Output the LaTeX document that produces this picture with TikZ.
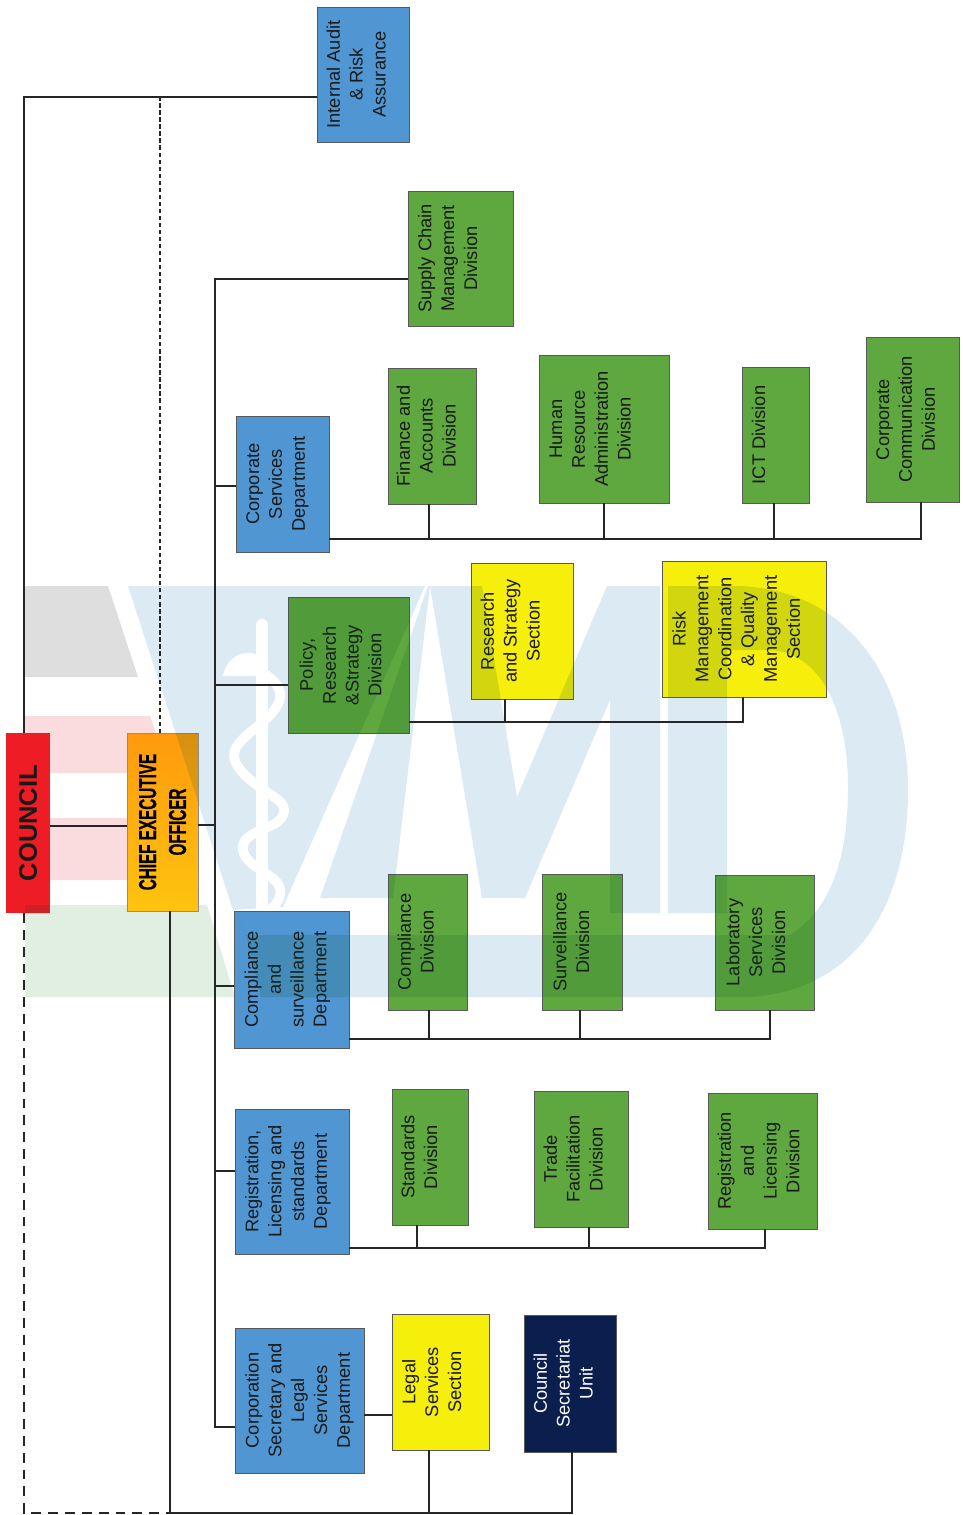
\documentclass[tikz,border=0pt]{standalone}
\usepackage{xcolor}
\usepackage{fontspec}
\setmainfont{Liberation Sans}
\newfontfamily\ceofont[FakeStretch=0.62,FakeBold=0.5]{Liberation Sans Bold}
\usepackage{tikz}
\usetikzlibrary{calc}
\definecolor{deptblue}{HTML}{4F96D2}
\definecolor{divgreen}{HTML}{5FA83F}
\definecolor{secyellow}{HTML}{F6EE0B}
\definecolor{unitnavy}{HTML}{0A1F4D}
\definecolor{councilred}{HTML}{EE1C25}
\definecolor{ceodark}{HTML}{FF9A0D}
\definecolor{ceolight}{HTML}{FFC40F}
\definecolor{wmblue}{HTML}{DCEAF4}
\definecolor{wmgrey}{HTML}{DEDEDE}
\definecolor{wmred}{HTML}{FADCDE}
\definecolor{wmgreen}{HTML}{E1EFE3}
\definecolor{wmtint}{HTML}{085128}
\newcommand{\wmletters}{
    (128,586) -- (425,586) -- (283,907) -- (233,910) -- (246,935) -- (261,997) -- (750,997)
    .. controls (860,990) and (908,900) .. (908,790)
    .. controls (908,670) and (840,586) .. (733,586) -- (668,586) -- (668,913) -- (727,913)
    -- (727,650) -- (767,650) .. controls (820,650) and (848,710) .. (848,787)
    .. controls (848,860) and (830,910) .. (790,935) -- (246,935) -- (233,910) -- cycle
    (428,586) -- (320,898) -- (393,898) -- (430,586) -- cycle
    (430,586) -- (482,586) -- (517,797) -- (607,586) -- (660,586) -- (660,913) -- (610,913) -- (610,700) -- (525,898) -- (482,898) -- cycle
}

\begin{document}
\begin{tikzpicture}[
    x=0.02cm, y=-0.02cm,
    boxsize/.style 2 args={minimum width=#2*0.02cm, minimum height=#1*0.02cm},
    lift/.style={text depth=#1*0.04cm+2.2pt},
    unit/.style={rectangle, rotate=90, draw=black!65, line width=0.5pt, inner sep=0pt, outer sep=0pt, align=center, font=\fontsize{10.4}{13}\selectfont, text=black!90},
    dept/.style={unit, fill=deptblue},
    div/.style={unit, fill=divgreen},
    sect/.style={unit, fill=secyellow},
    link/.style={draw=black!85, line width=1.1pt},
    dashlong/.style={draw=black!85, line width=1.1pt, dash pattern=on 5.6pt off 4pt},
    dashshort/.style={draw=black!85, line width=1.1pt, dash pattern=on 2.4pt off 1.6pt},
]
    \useasboundingbox (0,0) rectangle (963,1515);

    % watermark
    \fill[wmgrey] (25,586) -- (108,586) -- (138,677) -- (25,677) -- cycle;
    \fill[wmred] (25,716) -- (150,716) -- (170,773) -- (25,773) -- cycle;
    \fill[wmred] (25,818) -- (180,818) -- (198,880) -- (25,880) -- cycle;
    \fill[wmgreen] (25,905) -- (207,905) -- (235,997) -- (25,997) -- cycle;
    \fill[wmblue] \wmletters;
    \draw[white, line width=7pt, line cap=round] (262,625) -- (262,925);
    \fill[white] (223,676) .. controls (226,655) and (250,645) .. (265,660) -- (265,676) -- cycle;
    \draw[white, line width=5.5pt, line cap=round] (262,672) .. controls (290,690) and (285,705) .. (253,730)
        .. controls (235,745) and (225,755) .. (245,775)
        .. controls (265,795) and (290,800) .. (283,815)
        .. controls (278,830) and (240,830) .. (243,850)
        .. controls (246,870) and (285,875) .. (280,895)
        .. controls (278,905) and (270,910) .. (263,915);

    % top of the chart
    \node[unit, draw=none, fill=councilred, boxsize={44}{180}, font=\fontsize{14.5}{17}\bfseries\selectfont] (council) at (28,823) {COUNCIL};
    \node[unit, top color=ceodark, bottom color=ceolight, draw=black!45, lift=-1.9, boxsize={71}{178}, font=\ceofont\fontsize{14}{17}\selectfont, text=black] (ceo) at (162.5,822) {CHIEF EXECUTIVE\\OFFICER};
    \node[dept, lift=5, boxsize={92}{135}] (audit) at (363,74.5) {Internal Audit\\\& Risk\\Assurance};

    % departments
    \node[dept, lift=5, boxsize={93}{136}] (corpserv) at (282.5,484) {Corporate\\Services\\Department};
    \node[dept, lift=4, boxsize={115}{137}] (compdept) at (291.5,979.5) {Compliance\\and\\surveillance\\Department};
    \node[dept, lift=4, boxsize={114}{145}] (regdept) at (292,1181.5) {Registration,\\Licensing and\\standards\\Department};
    \node[dept, boxsize={129}{145}] (corpsec) at (299.5,1400.5) {Corporation\\Secretary and\\Legal\\Services\\Department};

    % divisions under corporate services
    \node[div, lift=11, boxsize={105}{135}] (supply) at (460.5,258.5) {Supply Chain\\Management\\Division};
    \node[div, lift=4, boxsize={88}{136}] (finance) at (432,436) {Finance and\\Accounts\\Division};
    \node[div, lift=12, boxsize={130}{148}] (human) at (604,429) {Human\\Resource\\Administration\\Division};
    \node[div, lift=15, boxsize={67}{136}] (ict) at (775.5,435) {ICT Division};
    \node[div, lift=5, boxsize={93}{165}] (commdiv) at (912.5,419.5) {Corporate\\Communication\\Division};

    % policy and its sections
    \node[div, lift=6, boxsize={121}{136}] (policy) at (348.5,665) {Policy,\\Research\\\&Strategy\\Division};
    \node[sect, lift=10, boxsize={102}{136}] (research) at (522,631) {Research\\and Strategy\\Section};
    \node[sect, lift=6, boxsize={164}{136}] (risk) at (744,629) {Risk\\Management\\Coordination\\\& Quality\\Management\\Section};

    % divisions under compliance
    \node[div, lift=10, boxsize={79}{136}] (compdiv) at (427.5,942) {Compliance\\Division};
    \node[div, lift=9, boxsize={80}{136}] (survdiv) at (582,942) {Surveillance\\Division};
    \node[div, lift=7, boxsize={99}{135}] (labdiv) at (764.5,942.5) {Laboratory\\Services\\Division};

    % divisions under registration
    \node[div, lift=9, boxsize={76}{136}] (standards) at (430,1157) {Standards\\Division};
    \node[div, lift=6, boxsize={94}{136}] (trade) at (581,1159) {Trade\\Facilitation\\Division};
    \node[div, lift=2, boxsize={109}{136}] (reglic) at (762.5,1161) {Registration\\and\\Licensing\\Division};

    % bottom units
    \node[sect, lift=7, boxsize={97}{136}] (legal) at (440.5,1382) {Legal\\Services\\Section};
    \node[unit, fill=unitnavy, text=white, lift=5, boxsize={92}{137}] (councilsec) at (570,1383.5) {Council\\Secretariat\\Unit};

    % watermark showing through the boxes
    \foreach \n in {ceo, policy, research, risk, compdept, compdiv, survdiv, labdiv} {
        \begin{scope}
            \clip (\n.north west) rectangle (\n.south east);
            \fill[wmtint, opacity=0.15] \wmletters;
        \end{scope}
    }
    \begin{scope}
        \clip (council.north west) rectangle (council.south east);
        \fill[wmtint, opacity=0.15] (25,905) -- (207,905) -- (235,997) -- (25,997) -- cycle;
    \end{scope}

    % council and ceo
    \coordinate (topL) at (24,97);
    \coordinate (topM) at (160,97);
    \coordinate (midC) at (90,826);
    \coordinate (botL) at (24,1513);
    \coordinate (botM) at (170,1513);
    \coordinate (botR) at (572,1513);
    \draw[link] (topL |- council.east) -- (topL) -- (topL -| audit.north);
    \draw[dashlong] (topL |- council.west) -- (botL) -- (botM);
    \draw[dashshort] (topM |- ceo.east) -- (topM);
    \draw[link] (midC -| council.south) -- (midC -| ceo.north);
    \draw[link] (botM |- ceo.west) -- (botM) -- (botR) -- (botR |- councilsec.west);
    \coordinate (legalB) at (429,1513);
    \draw[link] (legalB) -- (legalB |- legal.west);

    % main trunk
    \coordinate (trunkT) at (215,279);
    \coordinate (trunkB) at (215,1427);
    \coordinate (trunkC) at (215,825);
    \draw[link] (trunkT -| supply.north) -- (trunkT) -- (trunkB) -- (trunkB -| corpsec.north);
    \draw[link] (trunkC -| ceo.south) -- (trunkC);
    \foreach \n/\y in {corpserv/486, policy/685, compdept/986, regdept/1171} {
        \coordinate (tb) at (215,\y);
        \draw[link] (tb) -- (tb -| \n.north);
    }
    \coordinate (seclink) at (380,1415);
    \draw[link, line width=1.4pt] (seclink -| corpsec.south) -- (seclink -| legal.north);

    % buses
    \coordinate (busA) at (921,539);
    \draw[link] (busA -| corpserv.south) -- (busA) -- (busA |- commdiv.west);
    \foreach \n/\x in {finance/429, human/604, ict/774} {
        \coordinate (st) at (\x,539);
        \draw[link] (st) -- (st |- \n.west);
    }
    \coordinate (busB) at (743,722);
    \draw[link] (busB -| policy.south) -- (busB) -- (busB |- risk.west);
    \coordinate (st) at (505,722);
    \draw[link] (st) -- (st |- research.west);
    \coordinate (busC) at (770,1039);
    \draw[link] (busC -| compdept.south) -- (busC) -- (busC |- labdiv.west);
    \foreach \n/\x in {compdiv/429, survdiv/580} {
        \coordinate (st) at (\x,1039);
        \draw[link] (st) -- (st |- \n.west);
    }
    \coordinate (busD) at (765,1248);
    \draw[link] (busD -| regdept.south) -- (busD) -- (busD |- reglic.west);
    \foreach \n/\x in {standards/417, trade/589} {
        \coordinate (st) at (\x,1248);
        \draw[link] (st) -- (st |- \n.west);
    }
\end{tikzpicture}
\end{document}
